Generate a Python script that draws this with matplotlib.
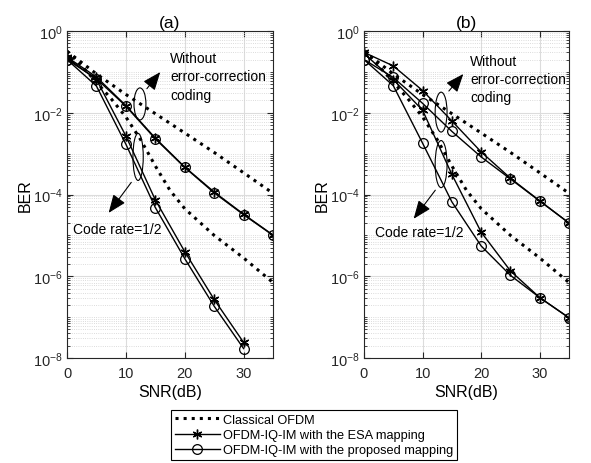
import matplotlib
matplotlib.use("Agg")
import matplotlib.pyplot as plt
from matplotlib.patches import Ellipse
from matplotlib.ticker import LogLocator, NullFormatter

plt.rcParams["font.family"] = ["Liberation Sans", "DejaVu Sans"]
plt.rcParams["mathtext.fontset"] = "custom"
plt.rcParams["mathtext.rm"] = "Liberation Sans"
plt.rcParams["mathtext.it"] = "Liberation Sans:italic"

snr = [0, 5, 10, 15, 20, 25, 30, 35]

# classical OFDM reference curves (same in both panels)
snr_cl = [0, 5, 10, 15, 20, 25, 30, 35]
cl_uncoded = [0.32, 0.089, 0.028, 9.5e-3, 3.2e-3, 1.07e-3, 3.4e-4, 1.07e-4]
snr_cl_coded = [0, 2.5, 5, 7.5, 10, 12.5, 15, 17.5, 20, 25, 30, 35]
cl_coded = [0.32, 0.14, 0.056, 0.022, 7.9e-3, 2.2e-3, 5e-4, 1.26e-4,
            4.5e-5, 1e-5, 2.8e-6, 7e-7]

# panel (a)
a_esa_uncoded = [0.23, 0.075, 0.015, 2.4e-3, 4.7e-4, 1.15e-4, 3.3e-5, 1.02e-5]
a_prop_uncoded = [0.2, 0.068, 0.0145, 2.3e-3, 4.6e-4, 1.1e-4, 3.2e-5, 1.0e-5]
a_esa_coded = [0.22, 0.065, 2.7e-3, 7.4e-5, 4.0e-6, 2.7e-7, 2.4e-8]
a_prop_coded = [0.2, 0.045, 1.7e-3, 4.8e-5, 2.7e-6, 1.85e-7, 1.7e-8]

# panel (b)
b_esa_uncoded = [0.30, 0.14, 0.035, 6.3e-3, 1.1e-3, 2.5e-4, 7e-5, 2.0e-5]
b_prop_uncoded = [0.2, 0.073, 0.017, 3.5e-3, 8.3e-4, 2.4e-4, 6.9e-5, 2.0e-5]
b_esa_coded = [0.28, 0.065, 0.0115, 3.1e-4, 1.2e-5, 1.35e-6, 3e-7, 9.6e-8]
b_prop_coded = [0.2, 0.046, 1.8e-3, 6.6e-5, 5.5e-6, 1.05e-6, 3e-7, 9.6e-8]

legend_labels = ["Classical OFDM",
                 "OFDM-IQ-IM with the ESA mapping",
                 "OFDM-IQ-IM with the proposed mapping"]

star = (6, 2, 0)


def draw_panel(ax, title, esa_u, prop_u, esa_c, prop_c):
    ax.plot(snr_cl, cl_uncoded, ":", color="k", lw=2.2)
    ax.plot(snr_cl_coded, cl_coded, ":", color="k", lw=2.2)
    ax.plot(snr[:len(esa_u)], esa_u, "-", color="k", lw=1, marker=star, ms=7, mew=1)
    ax.plot(snr[:len(esa_c)], esa_c, "-", color="k", lw=1, marker=star, ms=7, mew=1)
    ax.plot(snr[:len(prop_u)], prop_u, "-", color="k", lw=1, marker="o", ms=7,
            mfc="none", mew=0.9)
    ax.plot(snr[:len(prop_c)], prop_c, "-", color="k", lw=1, marker="o", ms=7,
            mfc="none", mew=0.9)

    ax.set_yscale("log")
    ax.set_xlim(0, 35)
    ax.set_ylim(1e-8, 1)
    ax.set_xticks([0, 10, 20, 30])
    ax.set_yticks([1e-8, 1e-6, 1e-4, 1e-2, 1])
    ax.set_yticklabels([r"$10^{-8}$", r"$10^{-6}$", r"$10^{-4}$", r"$10^{-2}$", r"$10^{0}$"])
    ax.yaxis.set_minor_locator(LogLocator(base=10, subs=range(1, 10), numticks=20))
    ax.yaxis.set_minor_formatter(NullFormatter())
    ax.grid(True, which="major", color="#dcdcdc", lw=0.8)
    ax.grid(True, which="minor", axis="y", color="#d0d0d0", lw=0.6, ls=":")
    ax.set_axisbelow(True)
    ax.tick_params(which="both", direction="in", top=True, right=True,
                   labelsize=10.5, colors="#262626")
    ax.tick_params(which="major", length=4)
    ax.tick_params(which="minor", length=2)
    ax.tick_params(axis="x", pad=6)
    ax.tick_params(axis="y", pad=3)
    for s in ax.spines.values():
        s.set_color("#262626")
        s.set_linewidth(0.8)
    ax.set_title(title, fontsize=12.5, pad=3)
    ax.set_xlabel("SNR(dB)", fontsize=11.5, labelpad=3)
    ax.set_ylabel("BER", fontsize=11.5)
    ax.yaxis.set_label_coords(-0.165, 0.5)


fig = plt.figure(figsize=(5.91, 4.64), dpi=100)
ax_a = fig.add_axes([0.1134, 0.2263, 0.3486, 0.7047])
ax_b = fig.add_axes([0.6159, 0.2263, 0.347, 0.7047])

draw_panel(ax_a, "(a)", a_esa_uncoded, a_prop_uncoded, a_esa_coded, a_prop_coded)
draw_panel(ax_b, "(b)", b_esa_uncoded, b_prop_uncoded, b_esa_coded, b_prop_coded)

arrow = dict(arrowstyle="-|>,head_length=0.7,head_width=0.28", mutation_scale=16,
             lw=0.8, color="k")

# annotations in panel (a)
ax_a.add_patch(Ellipse((0.354, 0.777), 0.058, 0.098, transform=ax_a.transAxes,
                       fill=False, lw=0.8, ec="k"))
ax_a.annotate("", xy=(0.461, 0.881), xytext=(0.379, 0.817),
              xycoords="axes fraction", arrowprops=arrow)
ax_a.text(0.5, 0.862, "Without\nerror-correction\ncoding", transform=ax_a.transAxes,
          fontsize=10, va="center", ha="left", linespacing=1.4)
ax_a.add_patch(Ellipse((0.345, 0.615), 0.05, 0.144, transform=ax_a.transAxes,
                       fill=False, lw=0.8, ec="k"))
ax_a.annotate("", xy=(0.194, 0.437), xytext=(0.32, 0.544),
              xycoords="axes fraction", arrowprops=arrow)
ax_a.text(0.03, 0.394, "Code rate=1/2", transform=ax_a.transAxes,
          fontsize=10, va="center", ha="left")

# annotations in panel (b)
ax_b.add_patch(Ellipse((0.376, 0.752), 0.058, 0.122, transform=ax_b.transAxes,
                       fill=False, lw=0.8, ec="k"))
ax_b.annotate("", xy=(0.493, 0.875), xytext=(0.405, 0.81),
              xycoords="axes fraction", arrowprops=arrow)
ax_b.text(0.517, 0.853, "Without\nerror-correction\ncoding", transform=ax_b.transAxes,
          fontsize=10, va="center", ha="left", linespacing=1.4)
ax_b.add_patch(Ellipse((0.376, 0.593), 0.058, 0.144, transform=ax_b.transAxes,
                       fill=False, lw=0.8, ec="k"))
ax_b.annotate("", xy=(0.234, 0.419), xytext=(0.356, 0.52),
              xycoords="axes fraction", arrowprops=arrow)
ax_b.text(0.054, 0.385, "Code rate=1/2", transform=ax_b.transAxes,
          fontsize=10, va="center", ha="left")

# shared legend below the panels
h1, = ax_a.plot([], [], ":", color="k", lw=2.2)
h2, = ax_a.plot([], [], "-", color="k", lw=1, marker=star, ms=7, mew=1)
h3, = ax_a.plot([], [], "-", color="k", lw=1, marker="o", ms=7, mfc="none", mew=0.9)
leg = fig.legend([h1, h2, h3], legend_labels, loc="upper left",
                 bbox_to_anchor=(171 / 591, 1 - 411 / 464), fontsize=9.2,
                 frameon=True, fancybox=False, edgecolor="k", framealpha=1,
                 handlelength=3.5, handletextpad=0.3, borderpad=0.3,
                 labelspacing=0.25, borderaxespad=0)
leg.get_frame().set_linewidth(0.8)

fig.savefig("out.png", dpi=100)
